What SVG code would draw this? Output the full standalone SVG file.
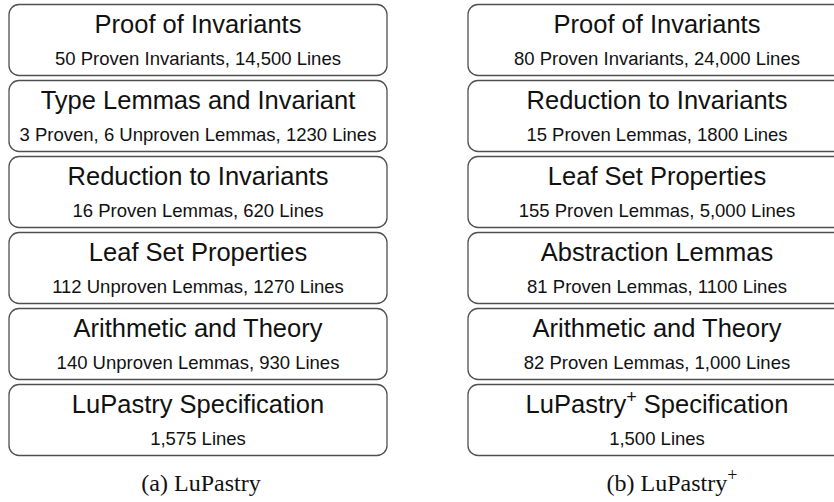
<svg xmlns="http://www.w3.org/2000/svg" width="834" height="502" viewBox="0 0 834 502">
  <style>
    .box { fill: #ffffff; stroke: #505050; stroke-width: 1.3; }
    .title { font-family: "Liberation Sans", "DejaVu Sans", sans-serif; font-size: 25.5px; fill: #111111; text-anchor: middle; }
    .sub { font-family: "Liberation Sans", "DejaVu Sans", sans-serif; font-size: 18.5px; fill: #111111; text-anchor: middle; }
    .cap { font-family: "Liberation Serif", "DejaVu Serif", serif; font-size: 24px; fill: #111111; text-anchor: middle; }
    .sup { font-size: 18px; }
  </style>
  <rect width="834" height="502" fill="#ffffff"/>

  <!-- Left stack: LuPastry -->
  <g id="a-proof">
    <rect class="box" x="9" y="4.5" width="378" height="71" rx="10"/>
    <text class="title" x="198" y="33">Proof of Invariants</text>
    <text class="sub" x="198" y="65">50 Proven Invariants, 14,500 Lines</text>
  </g>
  <g id="a-type">
    <rect class="box" x="9" y="80.5" width="378" height="71" rx="10"/>
    <text class="title" x="198" y="109">Type Lemmas and Invariant</text>
    <text class="sub" x="198" y="141">3 Proven, 6 Unproven Lemmas, 1230 Lines</text>
  </g>
  <g id="a-reduction">
    <rect class="box" x="9" y="156.5" width="378" height="71" rx="10"/>
    <text class="title" x="198" y="185">Reduction to Invariants</text>
    <text class="sub" x="198" y="217">16 Proven Lemmas, 620 Lines</text>
  </g>
  <g id="a-leafset">
    <rect class="box" x="9" y="232.5" width="378" height="71" rx="10"/>
    <text class="title" x="198" y="261">Leaf Set Properties</text>
    <text class="sub" x="198" y="293">112 Unproven Lemmas, 1270 Lines</text>
  </g>
  <g id="a-arith">
    <rect class="box" x="9" y="308.5" width="378" height="71" rx="10"/>
    <text class="title" x="198" y="337">Arithmetic and Theory</text>
    <text class="sub" x="198" y="369">140 Unproven Lemmas, 930 Lines</text>
  </g>
  <g id="a-spec">
    <rect class="box" x="9" y="384.5" width="378" height="71" rx="10"/>
    <text class="title" x="198" y="413">LuPastry Specification</text>
    <text class="sub" x="198" y="445">1,575 Lines</text>
  </g>
  <text class="cap" x="201" y="491">(a) LuPastry</text>

  <!-- Right stack: LuPastry+ -->
  <g id="b-proof">
    <rect class="box" x="468" y="4.5" width="378" height="71" rx="10"/>
    <text class="title" x="657" y="33">Proof of Invariants</text>
    <text class="sub" x="657" y="65">80 Proven Invariants, 24,000 Lines</text>
  </g>
  <g id="b-reduction">
    <rect class="box" x="468" y="80.5" width="378" height="71" rx="10"/>
    <text class="title" x="657" y="109">Reduction to Invariants</text>
    <text class="sub" x="657" y="141">15 Proven Lemmas, 1800 Lines</text>
  </g>
  <g id="b-leafset">
    <rect class="box" x="468" y="156.5" width="378" height="71" rx="10"/>
    <text class="title" x="657" y="185">Leaf Set Properties</text>
    <text class="sub" x="657" y="217">155 Proven Lemmas, 5,000 Lines</text>
  </g>
  <g id="b-abstraction">
    <rect class="box" x="468" y="232.5" width="378" height="71" rx="10"/>
    <text class="title" x="657" y="261">Abstraction Lemmas</text>
    <text class="sub" x="657" y="293">81 Proven Lemmas, 1100 Lines</text>
  </g>
  <g id="b-arith">
    <rect class="box" x="468" y="308.5" width="378" height="71" rx="10"/>
    <text class="title" x="657" y="337">Arithmetic and Theory</text>
    <text class="sub" x="657" y="369">82 Proven Lemmas, 1,000 Lines</text>
  </g>
  <g id="b-spec">
    <rect class="box" x="468" y="384.5" width="378" height="71" rx="10"/>
    <text class="title" x="657" y="413">LuPastry<tspan class="sup" dy="-10">+</tspan><tspan dy="10"> Specification</tspan></text>
    <text class="sub" x="657" y="445">1,500 Lines</text>
  </g>
  <text class="cap" x="672" y="491">(b)  LuPastry<tspan class="sup" dy="-10">+</tspan></text>

  <!-- no connectors in this figure -->
  <g id="connectors"/>
</svg>
